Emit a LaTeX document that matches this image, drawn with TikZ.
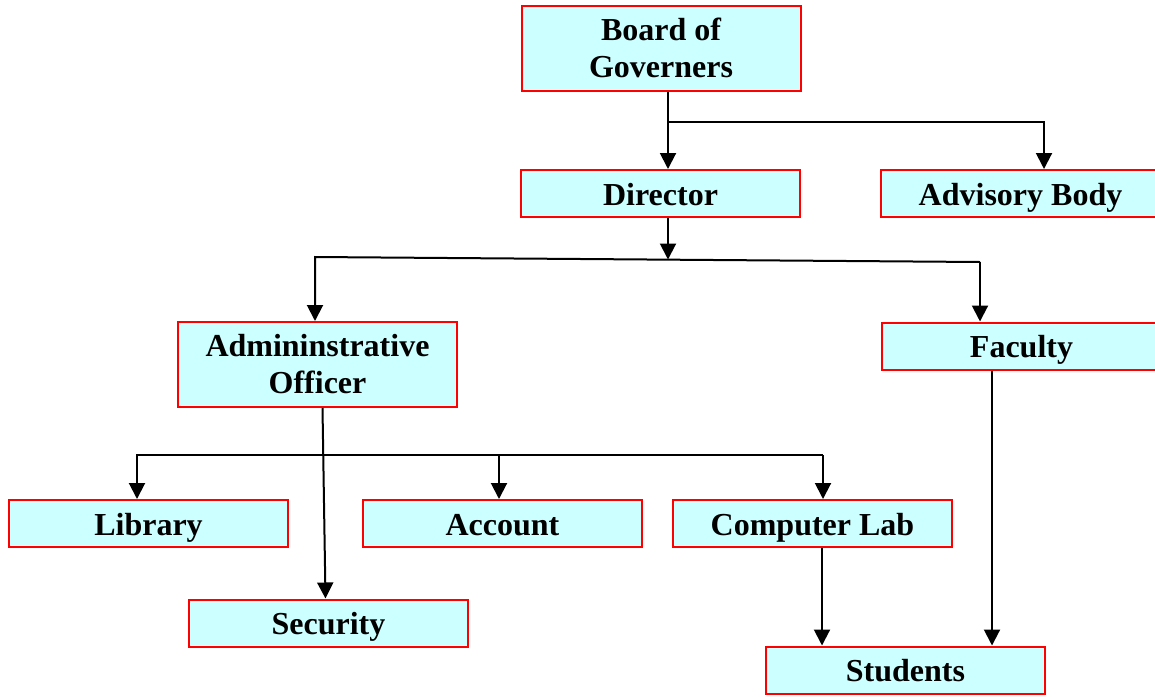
\documentclass[tikz,border=0pt]{standalone}
\usepackage{fontspec}
\setmainfont{Liberation Serif}
\usepackage{xcolor}
\usetikzlibrary{arrows.meta}
\definecolor{boxfill}{HTML}{CCFFFF}

\begin{document}
\begin{tikzpicture}[ x = 0.5pt, y = -0.5pt ]
        \tikzset{BaseBox/.style={draw=red, fill=boxfill, line width=1pt, align=center,
          minimum width=139.5pt, inner sep=2pt,
          font=\fontsize{16}{18.5}\selectfont\bfseries}}
        \tikzset{Box/.style={BaseBox, minimum height=23.5pt, text height=14pt, text depth=2.5pt}}
        \tikzset{TallBox/.style={BaseBox, minimum height=42.5pt}}
        \tikzset{Link/.style={line width=1pt, -{Triangle[width=8pt,length=8pt]}}}   % arrows

        \clip (0,0) rectangle (1155,696);

        \node[TallBox] (bog) at (661,48)      {Board of\\Governers};
        \node[Box]     (dir) at (660.5,193.5) {Director};
        \node[Box]     (adv) at (1020.5,193.5){Advisory Body};
        \node[TallBox] (adm) at (317.5,364.5) {Admininstrative\\Officer};
        \node[Box]     (fac) at (1021.5,346)  {Faculty};
        \node[Box]     (lib) at (148.5,523.5) {Library};
        \node[Box]     (acc) at (502.5,523.5) {Account};
        \node[Box]     (lab) at (812.5,523.5) {Computer Lab};
        \node[Box]     (sec) at (328.5,623)   {Security};
        \node[Box]     (stu) at (905.5,670)   {Students};

        % board
        \coordinate (b1) at (668,122);
        \coordinate (b2) at (1044,122);
        \draw[Link] (bog.south -| b1) -- (dir.north -| b1);
        \draw[Link] (b1) -- (b2) -- (adv.north -| b2);

        % director
        \coordinate (d1) at (668,259.5);
        \coordinate (d2) at (315,257);
        \coordinate (d3) at (980,262);
        \draw[Link] (dir.south -| d1) -- (d1);
        \draw[Link] (d3) -- (d2) -- (adm.north -| d2);
        \draw[Link] (d3) -- (fac.north -| d3);

        % administrative officer
        \coordinate (a1) at (137,455);
        \coordinate (a2) at (823,455);
        \coordinate (a3) at (499,455);
        \draw[Link] ([xshift=2.5pt]adm.south) -- ([xshift=-1.5pt]sec.north);
        \draw[Link] (a2) -- (a1) -- (lib.north -| a1);
        \draw[Link] (a3) -- (acc.north -| a3);
        \draw[Link] (a2) -- (lab.north -| a2);

        % students
        \draw[Link] ([xshift=4.75pt]lab.south) -- ([xshift=-41.75pt]stu.north);
        \draw[Link] ([xshift=-14.75pt]fac.south) -- ([xshift=43.25pt]stu.north);

      \end{tikzpicture}
\end{document}
